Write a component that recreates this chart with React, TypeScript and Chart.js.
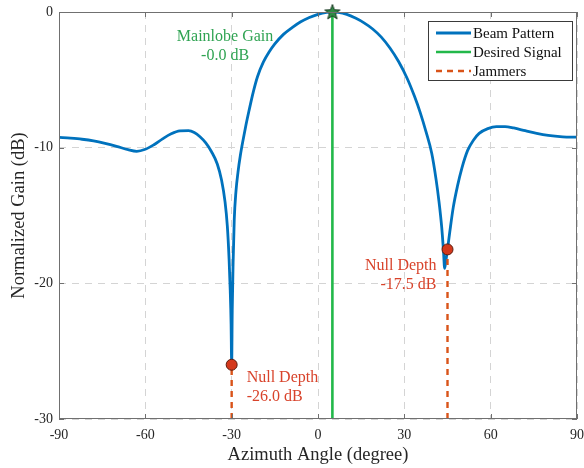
import React, { useEffect, useRef } from "react";
import { Chart, registerables } from "chart.js";

Chart.register(...registerables);

// Beam pattern (azimuth in degrees, normalized gain in dB)
const beamAngles = [
  -90, -86, -82, -78, -74, -70, -66, -63, -60, -57, -54, -51, -48, -45, -43, -41, -39, -37, -35,
  -33.5, -32.3, -31.5, -30.9, -30.5, -30.2, -30, -29.8, -29.5, -29.1, -28.5, -27.8, -27, -26, -25,
  -24, -22.5, -21, -19, -17, -15, -12, -9, -6, -3, 0, 3, 5, 7, 10, 13, 16, 19, 22, 25, 28, 31,
  33.5, 35.5, 37.5, 39.5, 41, 42, 43, 43.6, 44, 44.4, 45, 45.8, 47, 48.5, 50, 52, 54, 56, 59, 62,
  65, 68, 72, 76, 80, 85, 90,
];
const beamGains = [
  -9.24, -9.3, -9.38, -9.5, -9.68, -9.9, -10.15, -10.27, -10.12, -9.78, -9.35, -8.98, -8.77, -8.75,
  -8.88, -9.2, -9.65, -10.3, -11.2, -12.4, -14.0, -15.8, -18.2, -20.5, -23.0, -26.0, -22.0, -18.5,
  -15.3, -13.2, -11.8, -10.6, -9.4, -8.3, -7.3, -5.9, -4.75, -3.7, -2.95, -2.35, -1.65, -1.15,
  -0.72, -0.4, -0.17, -0.03, 0, -0.03, -0.18, -0.45, -0.8, -1.25, -1.85, -2.65, -3.65, -4.9, -6.2,
  -7.4, -8.8, -10.4, -12.3, -13.9, -15.9, -17.6, -18.9, -18.4, -17.5, -16.2, -14.4, -12.8, -11.5,
  -10.2, -9.45, -8.95, -8.6, -8.45, -8.45, -8.55, -8.75, -8.95, -9.1, -9.2, -9.23,
];

const desiredAngle = 5;
const mainlobeGain = 0;
const jammerAngles = [-30, 45];
const nullDepths = [-26.0, -17.5];

const xTicks = [-90, -60, -30, 0, 30, 60, 90];
const yTicks = [-30, -20, -10, 0];

const legendLabels = ["Beam Pattern", "Desired Signal", "Jammers"];
const xTitle = "Azimuth Angle (degree)";
const yTitle = "Normalized Gain (dB)";

const BLUE = "#0072BD";
const GREEN = "#22B84A";
const ORANGE = "#D95319";
const RED_TEXT = "#D8432B";
const GREEN_TEXT = "#2FA352";
const FONT = "'Liberation Serif', 'Times New Roman', serif";

function makeStar(): HTMLCanvasElement {
  const c = document.createElement("canvas");
  c.width = 18;
  c.height = 18;
  const ctx = c.getContext("2d")!;
  const cx = 9, cy = 9.5, ro = 8, ri = 3.3;
  ctx.beginPath();
  for (let i = 0; i < 10; i++) {
    const r = i % 2 === 0 ? ro : ri;
    const a = -Math.PI / 2 + (i * Math.PI) / 5;
    const px = cx + r * Math.cos(a);
    const py = cy + r * Math.sin(a);
    if (i === 0) ctx.moveTo(px, py);
    else ctx.lineTo(px, py);
  }
  ctx.closePath();
  ctx.fillStyle = "#2E8B45";
  ctx.fill();
  ctx.lineWidth = 1;
  ctx.strokeStyle = "#1C3A24";
  ctx.stroke();
  return c;
}

const zeroPad = (s: any) => {
  s.paddingLeft = 0;
  s.paddingRight = 0;
  s.paddingTop = 0;
  s.paddingBottom = 0;
};

export default function App() {
  const ref = useRef<HTMLCanvasElement | null>(null);

  useEffect(() => {
    if (!ref.current) return;
    const star = makeStar();
    const beam = beamAngles.map((a, i) => ({ x: a, y: beamGains[i] }));

    const overlay = {
      id: "overlay",
      afterDatasetsDraw(chart: any) {
        const ctx = chart.ctx as CanvasRenderingContext2D;
        const xs = chart.scales.x;
        const ys = chart.scales.y;
        const area = chart.chartArea;
        ctx.save();
        // box
        ctx.strokeStyle = "#707070";
        ctx.lineWidth = 1;
        ctx.strokeRect(area.left + 0.5, area.top + 0.5, area.right - area.left - 1, area.bottom - area.top - 1);
        // inward ticks
        ctx.beginPath();
        xTicks.forEach((t) => {
          const px = Math.round(xs.getPixelForValue(t)) + 0.5;
          ctx.moveTo(px, area.bottom);
          ctx.lineTo(px, area.bottom - 5);
          ctx.moveTo(px, area.top);
          ctx.lineTo(px, area.top + 5);
        });
        yTicks.forEach((t) => {
          const py = Math.round(ys.getPixelForValue(t)) + 0.5;
          ctx.moveTo(area.left, py);
          ctx.lineTo(area.left + 5, py);
          ctx.moveTo(area.right, py);
          ctx.lineTo(area.right - 5, py);
        });
        ctx.stroke();

        // x tick labels
        ctx.fillStyle = "#262626";
        ctx.font = `14px ${FONT}`;
        ctx.textAlign = "center";
        ctx.textBaseline = "middle";
        xTicks.forEach((t) => ctx.fillText(String(t), xs.getPixelForValue(t), area.bottom + 16));

        // annotations
        ctx.font = `16px ${FONT}`;
        ctx.textBaseline = "middle";
        ctx.fillStyle = GREEN_TEXT;
        ctx.textAlign = "center";
        const mx = xs.getPixelForValue(-32.3);
        const my = ys.getPixelForValue(mainlobeGain) + 25;
        ctx.fillText("Mainlobe Gain", mx, my);
        ctx.fillText(`${mainlobeGain < 0 || Object.is(mainlobeGain, 0) ? "-" : ""}${Math.abs(mainlobeGain).toFixed(1)} dB`, mx, my + 18.5);

        ctx.fillStyle = RED_TEXT;
        ctx.textAlign = "left";
        const n1x = xs.getPixelForValue(jammerAngles[0]) + 15;
        const n1y = ys.getPixelForValue(nullDepths[0]) + 13;
        ctx.fillText("Null Depth", n1x, n1y);
        ctx.fillText(`${nullDepths[0].toFixed(1)} dB`, n1x, n1y + 19);

        ctx.textAlign = "right";
        const n2x = xs.getPixelForValue(jammerAngles[1]) - 11;
        const n2y = ys.getPixelForValue(nullDepths[1]) + 16;
        ctx.fillText("Null Depth", n2x, n2y);
        ctx.fillText(`${nullDepths[1].toFixed(1)} dB`, n2x, n2y + 19);

        // legend
        const lx = area.right - 149;
        const ly = area.top + 9;
        const lw = 144;
        const lh = 59;
        ctx.fillStyle = "#ffffff";
        ctx.fillRect(lx, ly, lw, lh);
        ctx.strokeStyle = "#3a3a3a";
        ctx.lineWidth = 1;
        ctx.strokeRect(lx + 0.5, ly + 0.5, lw, lh);
        const rows = [ly + 12, ly + 31, ly + 50];
        const colors = [BLUE, GREEN, ORANGE];
        const widths = [3, 2.6, 2.4];
        rows.forEach((ry, i) => {
          ctx.beginPath();
          ctx.strokeStyle = colors[i];
          ctx.lineWidth = widths[i];
          ctx.setLineDash(i === 2 ? [6, 5] : []);
          ctx.moveTo(lx + 8, ry);
          ctx.lineTo(lx + 43, ry);
          ctx.stroke();
        });
        ctx.setLineDash([]);
        ctx.fillStyle = "#111";
        ctx.textAlign = "left";
        ctx.font = `15px ${FONT}`;
        rows.forEach((ry, i) => ctx.fillText(legendLabels[i], lx + 45, ry + 1));

        // axis titles
        ctx.fillStyle = "#262626";
        ctx.font = `18.5px ${FONT}`;
        ctx.textAlign = "center";
        ctx.textBaseline = "middle";
        ctx.fillText(xTitle, (area.left + area.right) / 2, area.bottom + 36);
        ctx.save();
        ctx.translate(19, (area.top + area.bottom) / 2);
        ctx.rotate(-Math.PI / 2);
        ctx.fillText(yTitle, 0, 0);
        ctx.restore();
        ctx.restore();
      },
    };

    const chart = new Chart(ref.current, {
      type: "scatter",
      data: {
        datasets: [
          {
            label: "Null markers",
            data: jammerAngles.map((a, i) => ({ x: a, y: nullDepths[i] })),
            pointRadius: 5.5,
            pointBackgroundColor: "#D4381C",
            pointBorderColor: "#5A1A0C",
            pointBorderWidth: 1,
            showLine: false,
            order: 0,
          } as any,
          {
            label: "Peak",
            data: [{ x: desiredAngle, y: mainlobeGain }],
            pointStyle: star,
            pointRadius: 9,
            showLine: false,
            order: 0,
            clip: false,
          } as any,
          {
            label: "Desired Signal",
            data: [{ x: desiredAngle, y: -30 }, { x: desiredAngle, y: mainlobeGain }],
            showLine: true,
            borderColor: GREEN,
            borderWidth: 2.6,
            pointRadius: 0,
            order: 1,
          } as any,
          ...jammerAngles.map((a, i) => ({
            label: "Jammers",
            data: [{ x: a, y: -30 }, { x: a, y: nullDepths[i] }],
            showLine: true,
            borderColor: ORANGE,
            borderWidth: 2.4,
            borderDash: [6, 5],
            pointRadius: 0,
            order: 2,
          })) as any,
          {
            label: "Beam Pattern",
            data: beam,
            showLine: true,
            borderColor: BLUE,
            borderWidth: 2.8,
            pointRadius: 0,
            cubicInterpolationMode: "monotone",
            order: 3,
          } as any,
        ],
      },
      options: {
        responsive: false,
        animation: false,
        layout: { autoPadding: false, padding: { top: 12, right: 7, left: 0, bottom: 0 } },
        plugins: { legend: { display: false }, tooltip: { enabled: false } },
        scales: {
          x: {
            type: "linear",
            min: -90,
            max: 90,
            afterBuildTicks: (s: any) => {
              s.ticks = xTicks.map((v) => ({ value: v }));
            },
            afterFit: (s: any) => {
              s.height = 49;
              zeroPad(s);
            },
            ticks: { display: false },
            grid: {
              color: "#d4d4d4",
              lineWidth: 1,
              drawTicks: false,
            },
            border: { display: false, dash: [7, 6] },
          },
          y: {
            type: "linear",
            min: -30,
            max: 0,
            afterBuildTicks: (s: any) => {
              s.ticks = yTicks.map((v) => ({ value: v }));
            },
            afterFit: (s: any) => {
              s.width = 59;
              zeroPad(s);
            },
            ticks: {
              font: { family: FONT, size: 14 },
              color: "#262626",
              padding: 6,
              callback: (v: any) => String(v),
            },
            grid: {
              color: "#d4d4d4",
              lineWidth: 1,
              drawTicks: false,
            },
            border: { display: false, dash: [7, 6] },
          },
        },
      } as any,
      plugins: [overlay],
    });
    return () => chart.destroy();
  }, []);

  return (
    <div style={{ position: "absolute", left: 0, top: 0, width: 584, height: 468, background: "#fff" }}>
      <canvas ref={ref} width={584} height={468} />
    </div>
  );
}
